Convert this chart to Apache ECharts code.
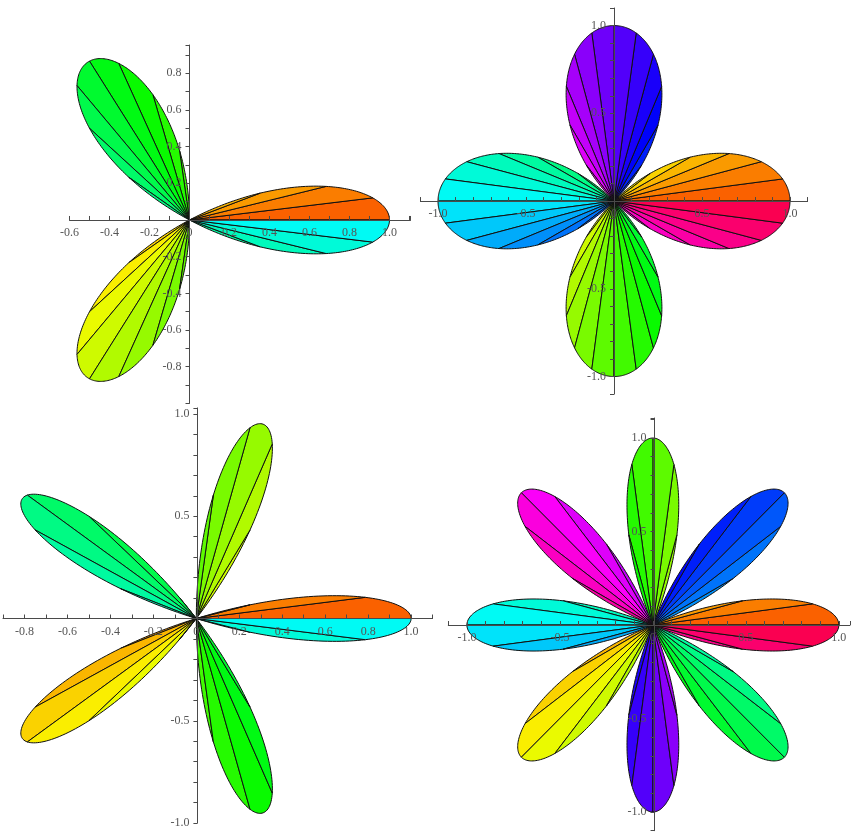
<!DOCTYPE html>
<html>
<head>
<meta charset="utf-8">
<title>Rose curves</title>
<script src="https://cdn.jsdelivr.net/npm/echarts@6/dist/echarts.min.js"></script>
<style>
  html, body { margin: 0; padding: 0; background: #fff; }
  #main { width: 853px; height: 834px; }
</style>
</head>
<body>
<div id="main"></div>
<script>
// rose curves r = cos(k*theta), one per panel (top-left, top-right, bottom-left, bottom-right)
const roseK = [3, 2, 5, 4]
// parameter sweep in degrees and the width of each filled fan segment
const sweepDeg = [180, 360, 180, 360]
const fanStepDeg = 7.5

// axis ranges
const xMin = [-0.6, -1.1, -0.9, -1.1]
const xMax = [1.105, 1.1, 1.1, 1.06]
const yMin = [-1.0, -1.1, -1.0, -1.1]
const yMax = [0.954, 1.1, 1.03, 1.107]

// tick labels that are printed
const xLabels = [
  [-0.6, -0.4, -0.2, 0, 0.2, 0.4, 0.6, 0.8, 1.0],
  [-1.0, -0.5, 0, 0.5, 1.0],
  [-0.8, -0.6, -0.4, -0.2, 0, 0.2, 0.4, 0.6, 0.8, 1.0],
  [-1.0, -0.5, 0, 0.5, 1.0]
]
const yLabels = [
  [-0.8, -0.6, -0.4, -0.2, 0.2, 0.4, 0.6, 0.8],
  [-1.0, -0.5, 0.5, 1.0],
  [-1.0, -0.5, 0.5, 1.0],
  [-1.0, -0.5, 0.5, 1.0]
]

// plot boxes in pixels
const boxes = [
  { left: 69.5, top: 45, width: 341, height: 358.4 },
  { left: 420.4, top: 8, width: 387.2, height: 386.1 },
  { left: 0.6, top: 407.9, width: 432, height: 415.1 },
  { left: 448.3, top: 418, width: 405, height: 412.7 }
]

const fontFamily = '"Liberation Serif", "DejaVu Serif", serif'
const axisGray = '#4a4a4a'

function labelFormatter(list) {
  return function (v) {
    for (let i = 0; i < list.length; i++) {
      if (Math.abs(list[i] - v) < 1e-6) {
        return list[i] === 0 ? '0' : list[i].toFixed(1)
      }
    }
    return ''
  }
}

function fanColor(deg) {
  const h = (20 + 0.9 * deg) % 360
  return 'hsl(' + h.toFixed(1) + ',100%,49%)'
}

function renderFan(k) {
  return function (params, api) {
    const a0 = api.value(0)
    const a1 = api.value(1)
    const pts = [api.coord([0, 0])]
    const n = 24
    for (let i = 0; i <= n; i++) {
      const t = (a0 + (a1 - a0) * i / n) * Math.PI / 180
      const r = Math.cos(k * t)
      pts.push(api.coord([r * Math.cos(t), r * Math.sin(t)]))
    }
    return {
      type: 'polygon',
      shape: { points: pts },
      style: {
        fill: fanColor((a0 + a1) / 2),
        stroke: '#111',
        lineWidth: 1,
        lineJoin: 'round'
      }
    }
  }
}

const grids = []
const xAxes = []
const yAxes = []
const series = []

for (let i = 0; i < roseK.length; i++) {
  const box = boxes[i]
  grids.push(Object.assign({ containLabel: false }, box))

  // axes cross at the origin: shift them in from the grid edges
  const xShift = -box.height * (0 - yMin[i]) / (yMax[i] - yMin[i])
  const yShift = -box.width * (0 - xMin[i]) / (xMax[i] - xMin[i])

  xAxes.push({
    type: 'value',
    gridIndex: i,
    position: 'bottom',
    offset: xShift,
    min: xMin[i],
    max: xMax[i],
    interval: 0.1,
    z: 10,
    splitLine: { show: false },
    axisLine: { show: true, onZero: false, lineStyle: { color: axisGray, width: 1 } },
    axisTick: { show: true, inside: true, length: 4, lineStyle: { color: axisGray } },
    axisLabel: {
      formatter: labelFormatter(xLabels[i]),
      color: '#555',
      fontSize: 12,
      fontFamily: fontFamily,
      margin: 7
    }
  })

  yAxes.push({
    type: 'value',
    gridIndex: i,
    position: 'left',
    offset: yShift,
    min: yMin[i],
    max: yMax[i],
    interval: 0.1,
    z: 10,
    splitLine: { show: false },
    axisLine: { show: true, onZero: false, lineStyle: { color: axisGray, width: 1 } },
    axisTick: { show: true, length: 4, lineStyle: { color: axisGray } },
    axisLabel: {
      formatter: labelFormatter(yLabels[i]),
      color: '#555',
      fontSize: 12,
      fontFamily: fontFamily,
      margin: 8
    }
  })

  const segs = []
  for (let a = 0; a < sweepDeg[i] - 1e-9; a += fanStepDeg) {
    segs.push([a, a + fanStepDeg])
  }

  series.push({
    type: 'custom',
    name: 'r = cos(' + roseK[i] + 'θ)',
    coordinateSystem: 'cartesian2d',
    xAxisIndex: i,
    yAxisIndex: i,
    renderItem: renderFan(roseK[i]),
    data: segs,
    z: 2,
    silent: true
  })
}

const chart = echarts.init(document.getElementById('main'))
chart.setOption({
  backgroundColor: '#ffffff',
  animation: false,
  grid: grids,
  xAxis: xAxes,
  yAxis: yAxes,
  series: series
})
</script>
</body>
</html>
